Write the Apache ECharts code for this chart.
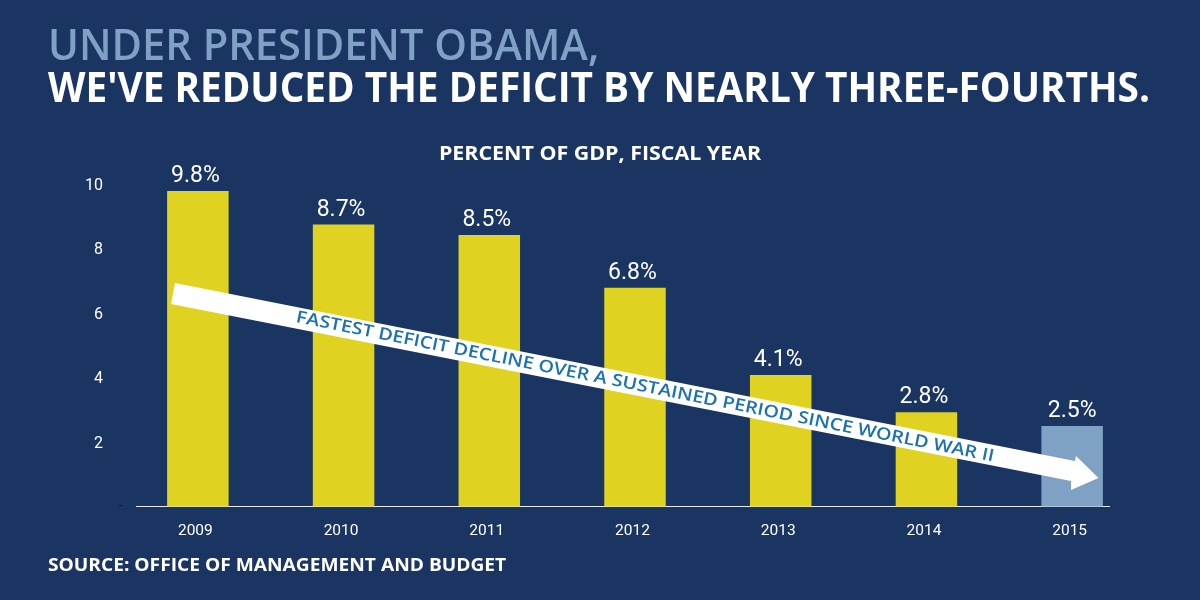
<!doctype html>
<html>

<head>
  <meta charset="utf-8">
  <script src="https://cdn.jsdelivr.net/npm/echarts@6/dist/echarts.min.js"></script>
  <style>
    html,
    body {
      width: 100%;
      height: 100%;
      margin: 0;
      background-color: #1b3563;
    }

    #main {
      width: 1200px;
      height: 600px;
    }
  </style>
</head>

<body>
  <div id="main"></div>
  <script>
    var years = ['2009', '2010', '2011', '2012', '2013', '2014', '2015'];
    //heights as drawn in the picture, they differ a little from the printed labels
    var barHeights = [9.8, 8.76, 8.43, 6.79, 4.08, 2.93, 2.5];
    var barLabels = ['9.8%', '8.7%', '8.5%', '6.8%', '4.1%', '2.8%', '2.5%'];
    var yTicks = [0, 2, 4, 6, 8, 10];
    var lightYear = '2015';

    var titleTop = 'UNDER PRESIDENT OBAMA,';
    var titleBottom = "WE'VE REDUCED THE DEFICIT BY NEARLY THREE-FOURTHS.";
    var subtitle = 'PERCENT OF GDP, FISCAL YEAR';
    var source = 'SOURCE: OFFICE OF MANAGEMENT AND BUDGET';
    var arrowText = 'FASTEST DEFICIT DECLINE OVER A SUSTAINED PERIOD SINCE WORLD WAR II';

    var navy = '#1b3563', yellow = '#e0d221', steel = '#7fa2c4', white = '#ffffff';

    var chart = echarts.init(document.getElementById('main'));

    //text stretched sideways, stands in for the tracking of the original face
    function stretched(text, x, y, font, fill, scaleX, align) {
      return {
        type: 'text',
        x: x,
        y: y,
        scaleX: scaleX,
        style: { text: text, font: font, fill: fill, textAlign: align || 'left', textVerticalAlign: 'middle' }
      };
    }

    //labels sit slightly left of the bars, except over the last one
    var barData = barHeights.map(function (v, i) {
      return {
        value: v,
        label: { padding: years[i] === lightYear ? 0 : [0, 5, 0, 0] }
      };
    });

    var option = {
      backgroundColor: navy,
      animation: false,
      grid: { left: 125, right: 55, top: 184.5, bottom: 93.5 },
      xAxis: {
        type: 'category',
        data: years,
        axisLine: { show: false },
        axisTick: { show: false },
        axisLabel: {
          color: white,
          fontFamily: 'Roboto',
          fontSize: 15.5,
          margin: 17,
          padding: [0, 5, 0, 0]
        }
      },
      yAxis: {
        type: 'value',
        min: 0,
        max: yTicks[yTicks.length - 1],
        interval: 2,
        splitLine: { show: false },
        axisLine: { show: false },
        axisTick: { show: false },
        axisLabel: {
          margin: 1,
          formatter: function (v) {
            return v === 0 ? '{zero|-}' : '{tick|' + v + '}';
          },
          rich: {
            tick: { color: white, fontFamily: 'Roboto', fontSize: 16, padding: [3, 21, 0, 0] },
            zero: { color: '#0d1c38', fontFamily: 'Roboto', fontSize: 16, padding: [0, 1, 0, 0] }
          }
        }
      },
      series: [{
        type: 'bar',
        data: barData,
        barWidth: 61.5,
        itemStyle: {
          color: function (p) {
            return p.name === lightYear ? steel : yellow;
          }
        },
        label: {
          show: true,
          position: 'top',
          distance: 3,
          color: white,
          fontFamily: 'Roboto',
          fontSize: 23,
          formatter: function (p) {
            return barLabels[p.dataIndex];
          }
        }
      }],
      graphic: [
        stretched(titleTop, 48, 47.5, '600 43px "Open Sans"', steel, 0.968),
        stretched(titleBottom, 48, 90, '700 41px "Open Sans"', white, 0.945),
        stretched(subtitle, 600, 154, '700 20px "Open Sans"', white, 1.07, 'center'),
        stretched(source, 48, 566, '700 18px "Open Sans"', white, 1.065),
        {
          type: 'line',
          shape: { x1: 136, y1: 506.5, x2: 1110, y2: 506.5 },
          style: { stroke: '#e6ebf2', lineWidth: 1 }
        },
        {
          type: 'polygon',
          z: 50,
          shape: {
            points: [[175, 283], [1075, 461], [1076, 456], [1098.5, 478], [1071, 490], [1071, 481], [171, 304]]
          },
          style: { fill: white }
        },
        {
          type: 'text',
          z: 51,
          x: 645,
          y: 387,
          scaleX: 1.162,
          rotation: -Math.atan(0.2),
          style: {
            text: arrowText,
            font: '600 17px "Open Sans"',
            fill: '#1a72b3',
            textAlign: 'center',
            textVerticalAlign: 'middle'
          }
        }
      ]
    };

    chart.setOption(option);
  </script>
</body>

</html>
